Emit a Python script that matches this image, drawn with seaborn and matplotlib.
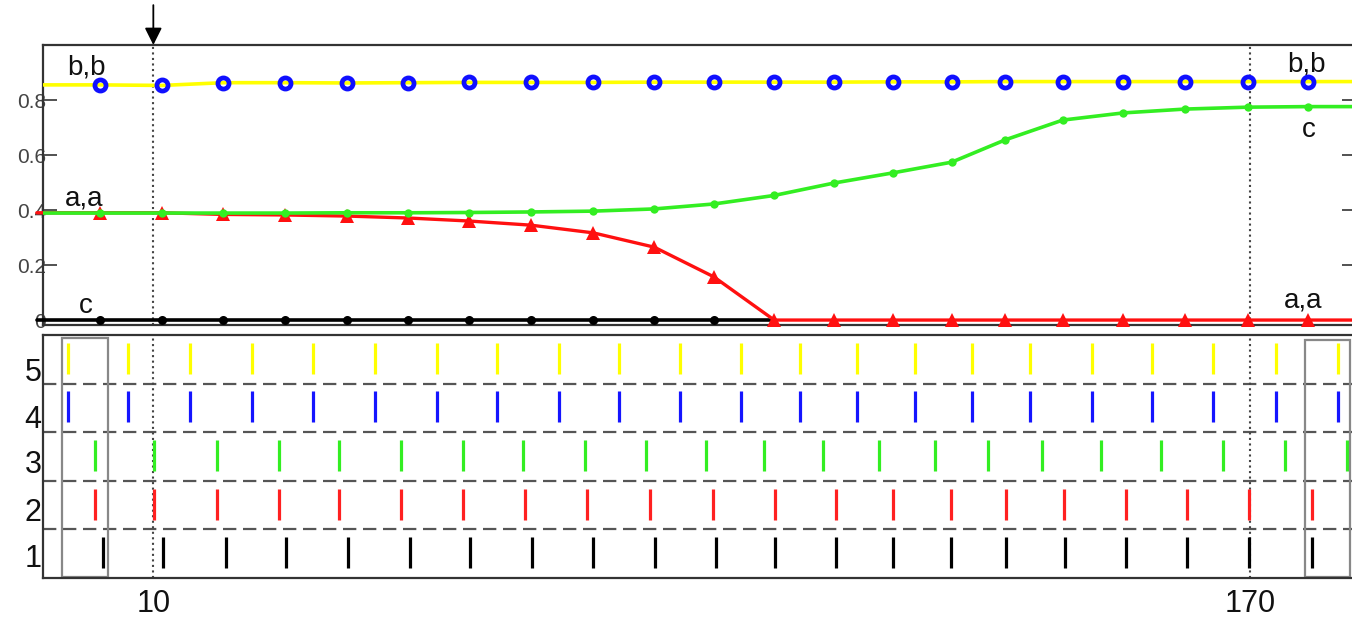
import matplotlib
matplotlib.use("Agg")
import matplotlib.pyplot as plt
from matplotlib.patches import Rectangle
import seaborn as sns

# ---------------- data ----------------
# sample times of the top-panel curves (markers)
sample_t = [2.2, 11.3, 20.2, 29.2, 38.3, 47.2, 56.1, 65.1, 74.2, 83.1, 91.8,
            100.6, 109.3, 117.9, 126.5, 134.3, 142.7, 151.5, 160.5, 169.7, 178.5]
b_vals = [0.855, 0.853, 0.863, 0.863, 0.862, 0.863, 0.864, 0.864, 0.864, 0.865, 0.865,
          0.865, 0.865, 0.866, 0.866, 0.867, 0.867, 0.867, 0.867, 0.867, 0.867]
a_red = [0.390, 0.390, 0.384, 0.382, 0.378, 0.371, 0.360, 0.345, 0.317, 0.265, 0.157,
         0.0, 0.0, 0.0, 0.0, 0.0, 0.0, 0.0, 0.0, 0.0, 0.0]
a_green = [0.389, 0.389, 0.389, 0.389, 0.390, 0.390, 0.391, 0.393, 0.396, 0.404, 0.422,
           0.453, 0.498, 0.535, 0.574, 0.655, 0.727, 0.753, 0.767, 0.774, 0.776]
c_black = [0.0, 0.0, 0.0, 0.0, 0.0, 0.0, 0.0, 0.0, 0.0, 0.0, 0.0, 0.0]
edge_t = [-7.0, 187.0]

# spike times per row (row 5 at top)
spikes_row5 = [-2.5, 6.3, 15.4, 24.4, 33.3, 42.4, 51.4, 60.2, 69.2, 78.0, 86.9, 95.8,
               104.4, 112.7, 121.1, 129.5, 137.9, 147.0, 155.7, 164.6, 173.8, 182.9]
spikes_row4 = [-2.5, 6.3, 15.4, 24.4, 33.3, 42.4, 51.4, 60.2, 69.2, 78.0, 86.9, 95.8,
               104.4, 112.7, 121.1, 129.5, 137.9, 147.0, 155.7, 164.6, 173.8, 182.9]
spikes_row3 = [1.5, 10.1, 19.3, 28.3, 37.1, 46.1, 55.2, 63.9, 73.0, 81.9, 90.6, 99.1,
               107.7, 115.9, 124.1, 131.8, 139.7, 148.3, 157.0, 166.1, 175.1, 184.2]
spikes_row2 = [1.5, 10.1, 19.3, 28.3, 37.1, 46.1, 55.2, 64.2, 73.3, 82.5, 91.7, 100.7,
               109.6, 117.9, 126.4, 134.4, 142.9, 151.9, 160.8, 169.9, 179.1]
spikes_row1 = [2.7, 11.4, 20.6, 29.4, 38.4, 47.5, 56.2, 65.3, 74.2, 83.2, 92.1, 100.7,
               109.6, 117.9, 126.4, 134.4, 143.0, 151.9, 160.8, 169.9, 179.1]
row_names = ["1", "2", "3", "4", "5"]
row_colors = ["#000000", "#ff2020", "#33ee22", "#1515ff", "#ffff00"]

y_ticks_top = [0, 0.2, 0.4, 0.6, 0.8]
y_ticklabels_top = ["0", "0.2", "0.4", "0.6", "0.8"]
x_ticks = [10, 170]
x_ticklabels = ["10", "170"]
marked_times = [10, 170]

# ---------------- style ----------------
sns.set_theme(style="white")
plt.rcParams["font.family"] = ["Liberation Sans", "DejaVu Sans"]

fig = plt.figure(figsize=(13.52, 6.20), dpi=100)
ax_top = fig.add_axes([43 / 1352, 1 - 325 / 620, 1313 / 1352, 280 / 620])
ax_bot = fig.add_axes([43 / 1352, 1 - 578 / 620, 1313 / 1352, 243 / 620])

xlim = (-6.1, 185.5)

# ---------------- top panel ----------------
def ext(vals):
    return [vals[0]] + list(vals) + [vals[-1]]

t_ext = [edge_t[0]] + sample_t + [edge_t[1]]
n = len(sample_t)

# black c
sns.lineplot(x=[edge_t[0]] + sample_t[:len(c_black)], y=[c_black[0]] + c_black,
             ax=ax_top, color="black", lw=2.6, marker="o", ms=6.5,
             markevery=list(range(1, len(c_black))), mfc="black", mec="black", mew=0,
             estimator=None, sort=False, zorder=3, clip_on=False)
# red a
sns.lineplot(x=t_ext, y=ext(a_red), ax=ax_top, color="#ff1010", lw=2.4,
             marker="^", ms=10, markevery=list(range(1, n + 1)),
             mfc="#ff1010", mec="#ff1010", mew=0, estimator=None, sort=False,
             zorder=4, clip_on=False)
# green
sns.lineplot(x=t_ext, y=ext(a_green), ax=ax_top, color="#33ee22", lw=2.6,
             marker="o", ms=6, markevery=list(range(1, n + 1)),
             mfc="#33ee22", mec="#33ee22", mew=0, estimator=None, sort=False, zorder=5)
# yellow line with blue open circles
sns.lineplot(x=t_ext, y=ext(b_vals), ax=ax_top, color="#ffff00", lw=2.6,
             marker="o", ms=8, markevery=list(range(1, n + 1)),
             mfc="none", mec="#1010ff", mew=3.4, estimator=None, sort=False, zorder=6)

ax_top.set_xlim(*xlim)
ax_top.set_ylim(-0.018, 1.0)
ax_top.set_xticks([])
ax_top.set_yticks(y_ticks_top)
ax_top.set_yticklabels(y_ticklabels_top)
ax_top.tick_params(axis="y", direction="in", length=10, width=1.2, color="#333333",
                   left=True, right=True, labelsize=15, labelcolor="#444444", pad=-2)
for s in ax_top.spines.values():
    s.set_color("#333333")
    s.set_linewidth(1.6)
ax_top.set_xlabel("")
ax_top.set_ylabel("")

# labels in top panel
lab_kw = dict(fontsize=20, color="#111111", ha="left", va="baseline")
ax_top.text(-2.6, 0.891, "b,b", **lab_kw)
ax_top.text(-2.9, 0.418, "a,a", **lab_kw)
ax_top.text(-0.9, 0.025, "c", **lab_kw)
ax_top.text(175.4, 0.902, "b,b", **lab_kw)
ax_top.text(177.6, 0.665, "c", **lab_kw)
ax_top.text(175.0, 0.044, "a,a", **lab_kw)

for t in marked_times:
    ax_top.axvline(t, color="#444444", ls=":", lw=1.5, zorder=1)

ax_top.annotate("", xy=(10, 1.0), xycoords="data", xytext=(10, 1.145),
                textcoords="data", annotation_clip=False,
                arrowprops=dict(arrowstyle="-|>", color="black", lw=1.3,
                                mutation_scale=26, shrinkA=0, shrinkB=0))

# ---------------- bottom panel (raster) ----------------
rows = [spikes_row1, spikes_row2, spikes_row3, spikes_row4, spikes_row5]
for i, (times, col) in enumerate(zip(rows, row_colors)):
    ax_bot.eventplot(times, lineoffsets=i + 1.02, linelengths=0.64,
                     linewidths=2.3, colors=col)

for sep in [1.5, 2.5, 3.5, 4.5]:
    ax_bot.axhline(sep, color="#555555", lw=1.6, ls=(0, (6, 3)), zorder=1)

for t in marked_times:
    ax_bot.axvline(t, color="#444444", ls=":", lw=1.5, zorder=1)

ax_bot.add_patch(Rectangle((-3.3, 0.52), 6.7, 4.92, fill=False,
                           edgecolor="#888888", lw=1.6, zorder=2))
ax_bot.add_patch(Rectangle((178.0, 0.52), 6.6, 4.88, fill=False,
                           edgecolor="#888888", lw=1.6, zorder=2))

ax_bot.set_xlim(*xlim)
ax_bot.set_ylim(0.5, 5.5)
ax_bot.set_yticks([0.97, 1.9, 2.89, 3.83, 4.8])
ax_bot.set_yticklabels(row_names)
ax_bot.set_xticks(x_ticks)
ax_bot.set_xticklabels(x_ticklabels)
ax_bot.tick_params(axis="both", length=0, labelsize=22, labelcolor="#111111")
ax_bot.tick_params(axis="y", pad=1)
ax_bot.tick_params(axis="x", pad=8)
for s in ax_bot.spines.values():
    s.set_color("#333333")
    s.set_linewidth(1.6)

fig.savefig("out.png", dpi=100)
